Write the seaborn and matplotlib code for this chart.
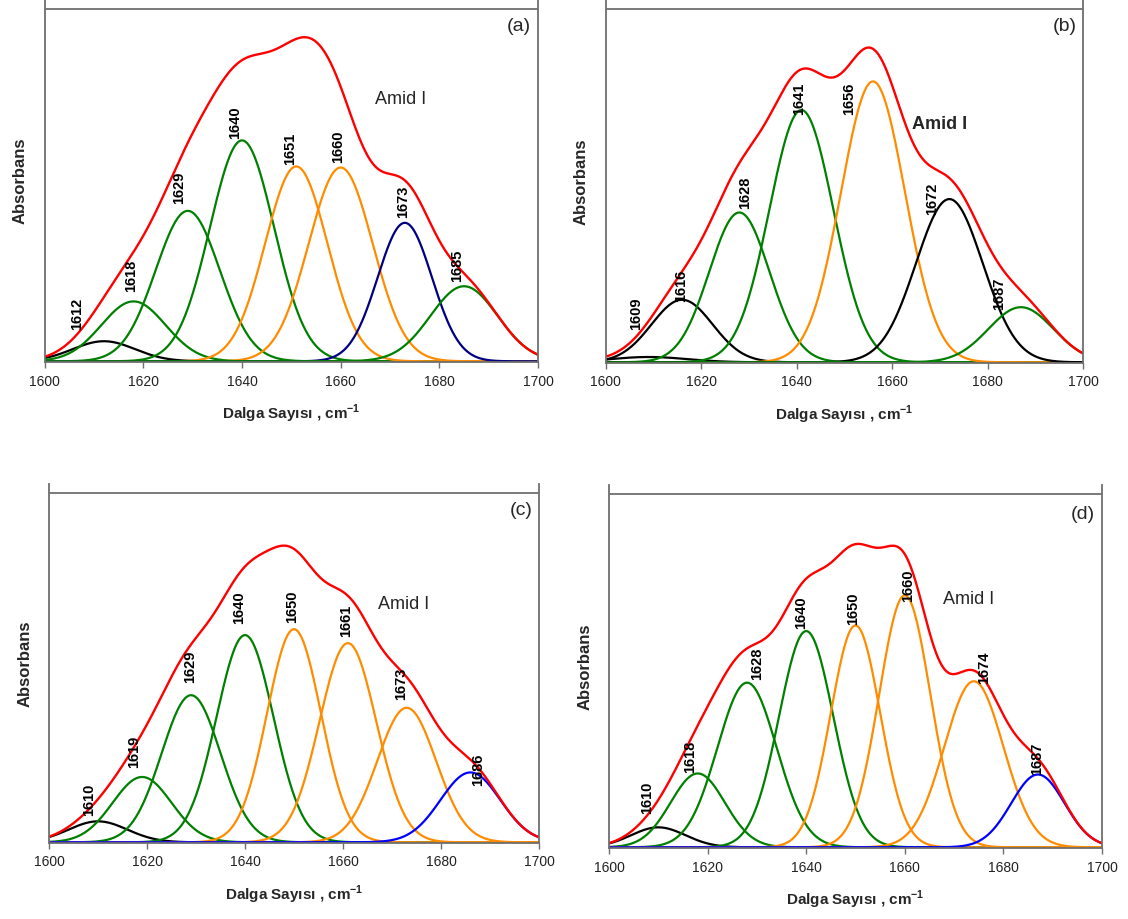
import numpy as np
import pandas as pd
import matplotlib
matplotlib.use("Agg")
import matplotlib.pyplot as plt
import seaborn as sns

# Band fit of the Amide I region: centre (cm-1), relative height, width (sigma, cm-1), colour
a_centers = [1612, 1618, 1629, 1640, 1651, 1660, 1673, 1685]
a_heights = [0.057, 0.170, 0.427, 0.627, 0.553, 0.550, 0.393, 0.213]
a_sigmas = [6.3, 6.5, 6.5, 6.5, 6.3, 6.5, 5.5, 6.8]
a_colors = ["black", "green", "green", "green", "orange", "orange", "navy", "green"]

b_centers = [1609, 1616, 1628, 1641, 1656, 1672, 1687]
b_heights = [0.015, 0.177, 0.424, 0.714, 0.795, 0.462, 0.156]
b_sigmas = [8.0, 6.4, 6.3, 6.7, 6.7, 7.0, 6.8]
b_colors = ["black", "black", "green", "green", "orange", "black", "green"]

c_centers = [1610, 1619, 1629, 1640, 1650, 1661, 1673, 1686]
c_heights = [0.060, 0.187, 0.421, 0.593, 0.610, 0.570, 0.385, 0.200]
c_sigmas = [6.0, 6.0, 6.0, 5.8, 5.5, 5.8, 6.0, 6.1]
c_colors = ["black", "green", "green", "green", "orange", "orange", "orange", "blue"]

d_centers = [1610, 1618, 1628, 1640, 1650, 1660, 1674, 1687]
d_heights = [0.0565, 0.209, 0.466, 0.612, 0.628, 0.713, 0.470, 0.206]
d_sigmas = [5.5, 5.5, 6.0, 5.5, 5.0, 5.2, 6.0, 5.4]
d_colors = ["black", "green", "green", "green", "orange", "orange", "orange", "blue"]

x_ticks = [1600, 1620, 1640, 1660, 1680, 1700]
panel_tags = ["(a)", "(b)", "(c)", "(d)"]
band_name = "Amid I"
x_title = "Dalga Sayısı , cm$^{\\mathbf{-1}}$"
y_title = "Absorbans"

COLORS = {"black": "#000000", "green": "#008000", "orange": "#FF8C00",
          "navy": "#000080", "blue": "#0000FF", "red": "#FF0000"}

# Peak label anchors (x, y) in data units for each panel
label_pos = {
    "a": [(1606.5, 0.088), (1617.5, 0.196), (1627.3, 0.446), (1638.7, 0.630),
          (1649.7, 0.557), (1659.5, 0.564), (1672.6, 0.408), (1683.6, 0.226)],
    "b": [(1606.3, 0.092), (1615.8, 0.172), (1629.2, 0.434), (1640.5, 0.700),
          (1651.0, 0.700), (1668.4, 0.417), (1682.4, 0.149)],
    "c": [(1608.2, 0.074), (1617.3, 0.212), (1628.8, 0.455), (1638.8, 0.625),
          (1649.6, 0.627), (1660.7, 0.589), (1671.9, 0.408), (1687.5, 0.160)],
    "d": [(1607.7, 0.093), (1616.5, 0.209), (1630.0, 0.473), (1638.9, 0.617),
          (1649.6, 0.628), (1660.6, 0.694), (1676.0, 0.463), (1686.9, 0.204)],
}
amid_pos = {"a": (1666.9, 0.743, "normal"), "b": (1664.2, 0.672, "bold"),
            "c": (1667.1, 0.682, "normal"), "d": (1667.8, 0.700, "normal")}
tag_y = {"a": 0.95, "b": 0.95, "c": 0.95, "d": 0.943}

# Axes rectangles in figure pixels: left, right, top, bottom
W, H = 1128, 919
boxes = {"a": (44.7, 538, 0, 362), "b": (605.7, 1083, 0, 363),
         "c": (49, 539, 484, 843), "d": (609, 1102, 485, 848)}

sns.set_style("white")
plt.rcParams["font.family"] = ["Liberation Sans", "DejaVu Sans"]
plt.rcParams["mathtext.fontset"] = "custom"
plt.rcParams["mathtext.rm"] = "Liberation Sans"
plt.rcParams["mathtext.bf"] = "Liberation Sans:bold"

fig = plt.figure(figsize=(W / 100, H / 100), dpi=100)
wn = np.linspace(1600, 1700, 1001)

panels = {
    "a": (a_centers, a_heights, a_sigmas, a_colors),
    "b": (b_centers, b_heights, b_sigmas, b_colors),
    "c": (c_centers, c_heights, c_sigmas, c_colors),
    "d": (d_centers, d_heights, d_sigmas, d_colors),
}

spine_col = "#6e6e6e"
for idx, (key, (cen, hei, sig, col)) in enumerate(panels.items()):
    l, r, t, b = boxes[key]
    ax = fig.add_axes([l / W, (H - b) / H, (r - l) / W, (b - t) / H])

    rows = []
    total = np.zeros_like(wn)
    for c0, h0, s0 in zip(cen, hei, sig):
        y = h0 * np.exp(-0.5 * ((wn - c0) / s0) ** 2)
        total += y
        rows.append(pd.DataFrame({"wn": wn, "A": y, "band": f"{c0}"}))
    df = pd.concat(rows, ignore_index=True)
    palette = {f"{c0}": COLORS[cc] for c0, cc in zip(cen, col)}
    sns.lineplot(data=df, x="wn", y="A", hue="band", palette=palette,
                 linewidth=1.6, legend=False, ax=ax, sort=False)
    sns.lineplot(x=wn, y=total, color=COLORS["red"], linewidth=1.7, ax=ax)

    for (lx, ly), c0 in zip(label_pos[key], cen):
        ax.text(lx, ly, f"{c0}", rotation=90, ha="center", va="bottom",
                fontsize=10.5, fontweight="bold", color="black")

    px, py, pw = amid_pos[key]
    ax.text(px, py, band_name, ha="left", va="center", fontsize=13,
            fontweight=pw)
    ax.text(1698.6, tag_y[key], panel_tags[idx], ha="right", va="center",
            fontsize=14)

    ax.set_xlim(1600, 1700)
    ax.set_ylim(-0.002, 1.0255)
    ax.axhline(1.0, color=spine_col, linewidth=1.3)
    ax.set_xticks(x_ticks)
    ax.set_xticklabels([str(v) for v in x_ticks])
    ax.set_yticks([])
    ax.tick_params(axis="x", direction="out", length=4, width=1,
                   color=spine_col, labelsize=10, labelcolor="#222222",
                   pad=5, bottom=True)
    for s in ["left", "right", "bottom"]:
        ax.spines[s].set_color(spine_col)
        ax.spines[s].set_linewidth(1.3)
    ax.spines["top"].set_visible(False)
    ax.set_xlabel(x_title, fontsize=11, fontweight="bold", labelpad=10)
    ax.set_ylabel(y_title, fontsize=12, fontweight="bold", labelpad=12)

fig.savefig("out.png", dpi=100)
